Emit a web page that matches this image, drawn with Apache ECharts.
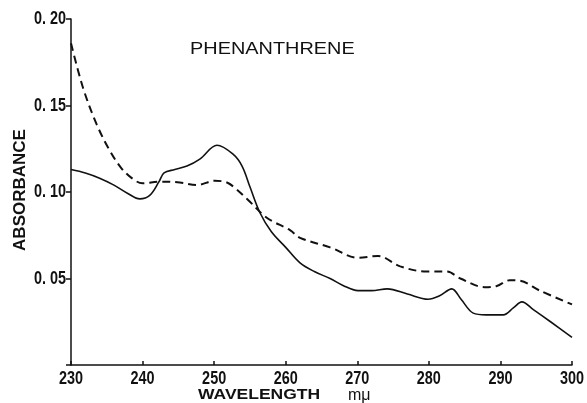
<!DOCTYPE html>
<html>
<head>
<meta charset="utf-8">
<script src="https://cdn.jsdelivr.net/npm/echarts@6/dist/echarts.min.js"></script>
<style>
  html, body { margin: 0; padding: 0; background: #fff; }
  #chart { width: 587px; height: 403px; }
</style>
</head>
<body>
<div id="chart"></div>
<script>
// Phenanthrene UV absorption: two spectra (solid and dashed)
const solidWavelength = [230, 232, 234, 236, 238, 239.6, 241, 242.3, 243, 244.5, 246.2, 248, 250.4, 252.6, 253.9, 255, 256.4, 258, 260, 262, 264, 266.2, 268, 270.1, 272, 274.2, 277, 279.9, 281.5, 283.2, 284.5, 286.2, 288, 290.4, 291.8, 293, 294.6, 297, 300];
const solidAbsorbance = [0.113, 0.111, 0.108, 0.104, 0.099, 0.096, 0.098, 0.106, 0.111, 0.113, 0.115, 0.119, 0.127, 0.122, 0.115, 0.103, 0.088, 0.077, 0.068, 0.059, 0.054, 0.050, 0.046, 0.043, 0.043, 0.044, 0.041, 0.038, 0.040, 0.044, 0.038, 0.030, 0.029, 0.029, 0.033, 0.0365, 0.032, 0.025, 0.016];

const dashedWavelength = [230, 231.7, 233.6, 235.4, 237, 238.5, 240, 242.4, 245.2, 247.6, 250.1, 251.8, 253, 254.6, 257.4, 260.6, 262, 266.2, 270.1, 272.9, 276, 279.7, 282.5, 284.4, 287.8, 289.5, 291.3, 292.7, 295.5, 300];
const dashedAbsorbance = [0.186, 0.160, 0.139, 0.124, 0.114, 0.108, 0.105, 0.106, 0.1055, 0.104, 0.1065, 0.1055, 0.102, 0.096, 0.085, 0.078, 0.0735, 0.068, 0.062, 0.063, 0.057, 0.054, 0.054, 0.050, 0.045, 0.0457, 0.049, 0.0487, 0.043, 0.035];

const xTicks = [230, 240, 250, 260, 270, 280, 290, 300];
const yTicks = [0.05, 0.10, 0.15, 0.20];
const yTickLabels = ['0. 05', '0. 10', '0. 15', '0. 20'];

const ink = '#111';
const numFont = 'bold 19px "Liberation Sans", "Arial", sans-serif';
const numSquash = 0.76;

function pairs(xs, ys) { return xs.map((x, i) => [x, ys[i]]); }

const chart = echarts.init(document.getElementById('chart'), null, { renderer: 'canvas' });
chart.setOption({
  backgroundColor: '#fff',
  animation: false,
  grid: { left: 71, right: 15, top: 19, bottom: 38, containLabel: false },
  xAxis: {
    type: 'value',
    min: xTicks[0],
    max: xTicks[xTicks.length - 1],
    interval: 10,
    axisLine: { lineStyle: { color: ink, width: 1.5 } },
    axisTick: { inside: true, length: 4, lineStyle: { color: ink, width: 1.5 } },
    axisLabel: { show: false },
    splitLine: { show: false }
  },
  yAxis: {
    type: 'value',
    min: 0,
    max: yTicks[yTicks.length - 1],
    interval: 0.05,
    axisLine: { show: true, lineStyle: { color: ink, width: 1.5 } },
    axisTick: { show: true, inside: false, length: 5, lineStyle: { color: ink, width: 1.5 } },
    axisLabel: { show: false },
    splitLine: { show: false }
  },
  series: [
    {
      type: 'line',
      data: pairs(solidWavelength, solidAbsorbance),
      smooth: 0.35,
      symbol: 'none',
      lineStyle: { color: ink, width: 1.6 }
    },
    {
      type: 'line',
      data: pairs(dashedWavelength, dashedAbsorbance),
      smooth: 0.35,
      symbol: 'none',
      lineStyle: { color: ink, width: 2, type: [8, 5] }
    }
  ]
});

// Tick labels in a condensed bold face, placed through the axis scales
const graphics = [];
xTicks.forEach((t, i) => {
  const p = chart.convertToPixel({ gridIndex: 0 }, [t, 0]);
  graphics.push({
    type: 'text', id: 'xl' + i, x: p[0], y: p[1] + 4, scaleX: numSquash,
    style: { text: String(t), fill: ink, font: numFont, align: 'center', verticalAlign: 'top' }
  });
});
yTicks.forEach((t, i) => {
  const p = chart.convertToPixel({ gridIndex: 0 }, [xTicks[0], t]);
  graphics.push({
    type: 'text', id: 'yl' + i, x: p[0] - 5, y: p[1], scaleX: numSquash,
    style: { text: yTickLabels[i], fill: ink, font: numFont, align: 'right', verticalAlign: 'middle' }
  });
});

graphics.push(
  {
    type: 'text', id: 'title', x: 190, y: 41, scaleX: 1.17,
    style: { text: 'PHENANTHRENE', fill: ink, font: '17px "Liberation Sans", sans-serif' }
  },
  {
    type: 'text', id: 'yname', x: 20, y: 190, rotation: Math.PI / 2,
    style: {
      text: 'ABSORBANCE', fill: ink, align: 'center', verticalAlign: 'middle',
      font: 'bold 17px "Liberation Sans", sans-serif'
    }
  },
  {
    type: 'text', id: 'xname', x: 198, y: 388, scaleX: 1.25,
    style: { text: 'WAVELENGTH', fill: ink, font: 'bold 14px "Liberation Sans", sans-serif' }
  },
  {
    type: 'text', id: 'unit', x: 348, y: 388,
    style: { text: 'mμ', fill: ink, font: '16px "Liberation Sans", sans-serif' }
  }
);

chart.setOption({ graphic: graphics });
</script>
</body>
</html>
